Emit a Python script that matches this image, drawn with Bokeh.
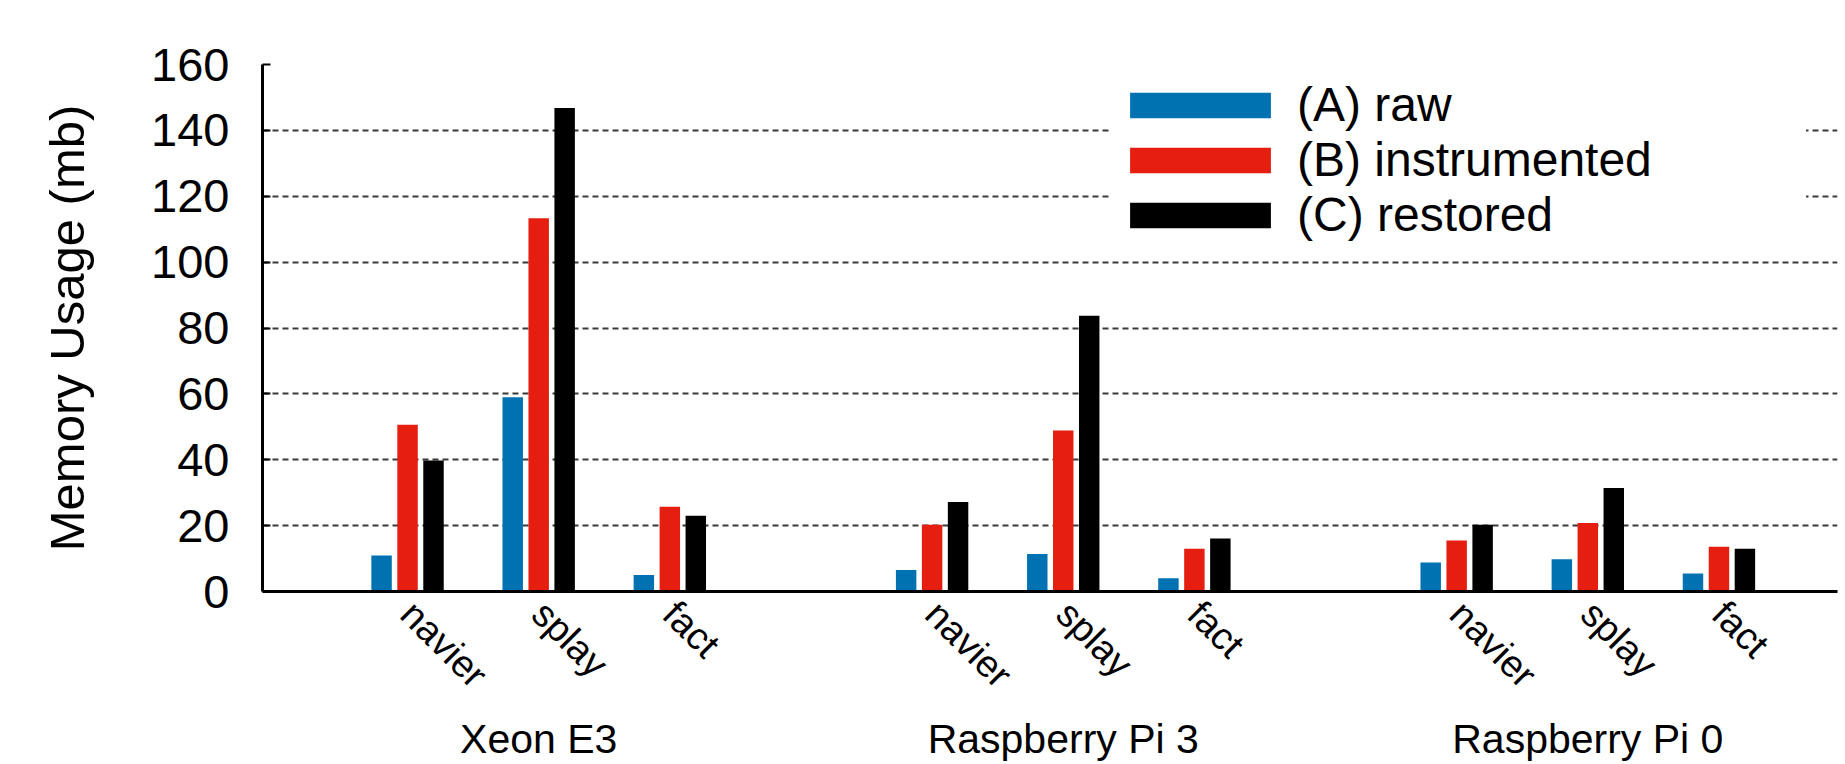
import math
from bokeh.plotting import figure
from bokeh.models import (Range1d, FixedTicker, Legend, LegendItem, LinearAxis,
                          ColumnDataSource)
from bokeh.embed import file_html
from bokeh.resources import INLINE

# ---- data -------------------------------------------------------------
groups = ["Xeon E3", "Raspberry Pi 3", "Raspberry Pi 0"]
benchmarks = ["navier", "splay", "fact"]
series = ["(A) raw", "(B) instrumented", "(C) restored"]
colors = ["#0072b2", "#e51e10", "#000000"]
raw = [10.9, 59.0, 5.0, 6.5, 11.4, 4.0, 8.8, 9.8, 5.5]
instrumented = [50.6, 113.3, 25.7, 20.3, 48.9, 13.0, 15.5, 20.8, 13.6]
restored = [39.8, 146.8, 23.0, 27.2, 83.7, 16.1, 20.3, 31.4, 13.0]
y_ticks = [0, 20, 40, 60, 80, 100, 120, 140, 160]
y_label = "Memory Usage (mb)"

FONT = "Liberation Sans"

# cluster positions: each group gets one empty slot after it
slot = len(benchmarks) + 1
positions = [g * slot + i for g in range(len(groups)) for i in range(len(benchmarks))]
tick_names = {pos: benchmarks[k % len(benchmarks)] for k, pos in enumerate(positions)}
group_centers = [g * slot + (len(benchmarks) - 1) // 2 for g in range(len(groups))]
group_names = {c: n for c, n in zip(group_centers, groups)}

p = figure(width=1845, height=764, output_backend="svg", toolbar_location=None,
           x_range=Range1d(-1.106, 10.904), y_range=Range1d(0, 160),
           min_border_left=262, min_border_right=8, min_border_top=64,
           min_border_bottom=173)
p.outline_line_color = None
p.background_fill_color = "white"

# bars
bar_step = 0.198
bar_w = 0.156
renderers = []
for k, (name, vals, col) in enumerate(zip(series, [raw, instrumented, restored], colors)):
    off = (k - 1) * bar_step
    src = ColumnDataSource(dict(x=[x + off for x in positions], top=vals))
    r = p.vbar(x="x", top="top", bottom=0, width=bar_w, source=src,
               fill_color=col, line_color=None)
    renderers.append(r)

# x axis (benchmarks)
xa = p.xaxis[0]
xa.ticker = FixedTicker(ticks=positions)
xa.major_label_overrides = tick_names
xa.major_label_orientation = -math.pi / 4
xa.major_tick_line_color = None
xa.major_tick_in = 0
xa.major_tick_out = 0
xa.minor_tick_line_color = None
xa.minor_tick_in = 0
xa.minor_tick_out = 0
xa.axis_line_width = 3
xa.axis_line_color = "black"
xa.major_label_standoff = 16
xa.major_label_text_font = FONT
xa.major_label_text_font_size = "38px"
xa.major_label_text_color = "black"

# second x axis (machine groups)
ga = LinearAxis(ticker=FixedTicker(ticks=group_centers),
                major_label_overrides=group_names,
                axis_line_color=None, major_tick_line_color=None,
                major_tick_in=0, major_tick_out=0,
                minor_tick_line_color=None, minor_tick_in=0, minor_tick_out=0,
                major_label_standoff=2,
                major_label_text_font=FONT, major_label_text_font_size="41px",
                major_label_text_color="black")
p.add_layout(ga, "below")

# y axis
ya = p.yaxis[0]
ya.ticker = FixedTicker(ticks=y_ticks)
ya.major_tick_in = 8
ya.major_tick_out = 0
ya.major_tick_line_width = 2
ya.minor_tick_line_color = None
ya.axis_line_width = 3
ya.axis_line_color = "black"
ya.major_label_standoff = 33
ya.major_label_text_font = FONT
ya.major_label_text_font_size = "47px"
ya.major_label_text_color = "black"
ya.axis_label = y_label
ya.axis_label_text_font = FONT
ya.axis_label_text_font_size = "49px"
ya.axis_label_text_font_style = "normal"
ya.axis_label_text_color = "black"
ya.axis_label_standoff = 54

# grid
p.xgrid.grid_line_color = None
p.ygrid.ticker = FixedTicker(ticks=y_ticks)
p.ygrid.grid_line_color = "#3a3a3a"
p.ygrid.grid_line_dash = "6 4"
p.ygrid.grid_line_width = 2

# legend
legend = Legend(items=[LegendItem(label=s, renderers=[r]) for s, r in zip(series, renderers)],
                location=(850, 349), padding=0, spacing=0,
                glyph_width=176, glyph_height=32,
                label_standoff=9, label_width=509,
                label_text_font=FONT, label_text_font_size="48px",
                label_text_color="black",
                border_line_color=None, background_fill_color="white",
                background_fill_alpha=1.0)
p.add_layout(legend)

open("out.html", "w").write(file_html(p, INLINE))
